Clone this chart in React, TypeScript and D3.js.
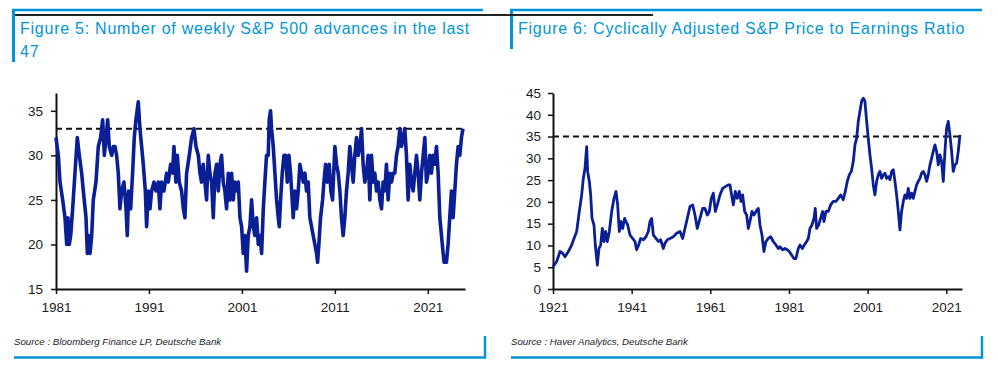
import { useEffect, useRef } from 'react';
import * as d3 from 'd3';

// Figure 5: weekly S&P 500 advances (readings)
const advYears = [
  1981.0, 1981.25, 1981.43, 1981.72, 1981.97, 1982.15, 1982.29, 1982.43, 1982.58, 1982.79,
  1983.04, 1983.29, 1983.51, 1983.76, 1983.94, 1984.23, 1984.37, 1984.51, 1984.66, 1984.84,
  1985.01, 1985.3, 1985.55, 1985.8, 1986.02, 1986.2, 1986.38, 1986.56, 1986.73, 1986.99,
  1987.16, 1987.34, 1987.52, 1987.7, 1987.88, 1988.06, 1988.31, 1988.53, 1988.67, 1988.81,
  1989.03, 1989.24, 1989.42, 1989.6, 1989.85, 1990.03, 1990.21, 1990.39, 1990.61, 1990.75,
  1990.93, 1991.11, 1991.29, 1991.54, 1991.76, 1992.0, 1992.18, 1992.36, 1992.61, 1992.9,
  1993.08, 1993.33, 1993.54, 1993.69, 1993.9, 1994.05, 1994.26, 1994.51, 1994.7, 1994.87,
  1995.05, 1995.34, 1995.59, 1995.84, 1996.06, 1996.31, 1996.49, 1996.66, 1996.84, 1997.02,
  1997.2, 1997.38, 1997.56, 1997.74, 1997.92, 1998.1, 1998.28, 1998.46, 1998.64, 1998.81,
  1998.99, 1999.17, 1999.35, 1999.53, 1999.71, 1999.89, 2000.07, 2000.25, 2000.43, 2000.61,
  2000.79, 2000.97, 2001.14, 2001.32, 2001.5, 2001.68, 2001.86, 2002.04, 2002.22, 2002.4,
  2002.58, 2002.76, 2002.94, 2003.12, 2003.3, 2003.47, 2003.65, 2003.83, 2003.94, 2004.08,
  2004.19, 2004.37, 2004.55, 2004.73, 2004.91, 2005.02, 2005.16, 2005.34, 2005.52, 2005.7,
  2005.88, 2006.06, 2006.23, 2006.41, 2006.52, 2006.7, 2006.88, 2007.06, 2007.24, 2007.42,
  2007.6, 2007.78, 2007.95, 2008.13, 2008.31, 2008.49, 2008.67, 2008.85, 2009.03, 2009.14,
  2009.28, 2009.46, 2009.68, 2009.82, 2010.0, 2010.18, 2010.39, 2010.57, 2010.75, 2011.0,
  2011.18, 2011.36, 2011.54, 2011.71, 2011.89, 2012.07, 2012.25, 2012.43, 2012.61, 2012.79,
  2012.97, 2013.15, 2013.33, 2013.51, 2013.69, 2013.87, 2014.04, 2014.22, 2014.4, 2014.58,
  2014.76, 2014.94, 2015.12, 2015.3, 2015.48, 2015.66, 2015.84, 2016.02, 2016.19, 2016.37,
  2016.55, 2016.73, 2016.91, 2017.09, 2017.27, 2017.45, 2017.63, 2017.81, 2017.99, 2018.17,
  2018.35, 2018.52, 2018.7, 2018.88, 2019.06, 2019.24, 2019.42, 2019.6, 2019.78, 2019.96,
  2020.14, 2020.32, 2020.5, 2020.68, 2020.85, 2021.03, 2021.21, 2021.39, 2021.57, 2021.75,
  2021.93, 2022.11, 2022.29, 2022.47, 2022.65, 2022.75, 2023.0, 2023.18, 2023.36, 2023.54,
  2023.72, 2023.9, 2024.08, 2024.26, 2024.44, 2024.62, 2024.78,
];
const advValues = [
  32, 30, 27, 25, 23, 20, 23, 20, 21, 24,
  28, 32, 30, 28, 26, 23, 19, 21, 19, 21,
  25, 27, 31, 32, 34, 30, 32, 34, 31, 30,
  31, 31, 30, 28, 24, 26, 27, 24, 21, 26,
  24, 28, 32, 34, 36, 33, 31, 29, 26, 22,
  26, 24, 26, 27, 26, 27, 24, 27, 26, 28,
  27, 29, 28, 31, 27, 30, 27, 26, 24, 23,
  28, 30, 32, 33, 31, 30, 28, 27, 29, 27,
  25, 30, 28, 27, 23, 28, 29, 26, 29, 30,
  27, 26, 24, 28, 25, 28, 25, 27, 26, 27,
  23, 22, 19, 21, 17, 21, 22, 25, 22, 21,
  23, 20, 21, 19, 24, 27, 30, 30, 34, 35,
  33, 31, 28, 25, 23, 22, 25, 28, 30, 30,
  27, 30, 28, 25, 23, 26, 24, 26, 29, 28,
  27, 28, 26, 27, 23, 22, 21, 20, 19, 18,
  20, 23, 25, 27, 29, 27, 29, 26, 25, 31,
  29, 28, 26, 23, 21, 23, 26, 28, 31, 29,
  27, 30, 32, 30, 31, 33, 29, 27, 28, 30,
  25, 30, 27, 28, 26, 27, 25, 24, 27, 26,
  29, 25, 28, 27, 28, 28, 30, 31, 33, 31,
  32, 33, 30, 25, 29, 27, 26, 28, 30, 28,
  25, 28, 30, 32, 27, 28, 30, 28, 30, 29,
  31, 28, 23, 21, 19, 18, 18, 20, 23, 26,
  23, 26, 29, 31, 30, 32, 33,
];
const advXTicks = [1981, 1991, 2001, 2011, 2021];
const advYTicks = [15, 20, 25, 30, 35];
const advThreshold = 33;

// Figure 6: Shiller CAPE
const capeYears = [
  1921.0, 1921.93, 1922.78, 1923.46, 1924.05, 1924.9, 1925.75, 1926.34, 1927.02, 1927.69,
  1928.29, 1928.71, 1929.14, 1929.56, 1929.81, 1930.24, 1930.58, 1930.92, 1931.42, 1931.76,
  1932.27, 1932.69, 1933.12, 1933.54, 1933.97, 1934.39, 1934.81, 1935.32, 1935.92, 1936.51,
  1937.02, 1937.44, 1937.86, 1938.29, 1938.71, 1939.22, 1939.56, 1939.98, 1940.58, 1941.25,
  1941.85, 1942.27, 1942.78, 1943.29, 1943.97, 1944.64, 1945.24, 1945.66, 1946.08, 1946.51,
  1947.19, 1947.78, 1948.37, 1949.05, 1949.47, 1950.07, 1950.75, 1951.59, 1952.44, 1953.29,
  1953.97, 1954.56, 1955.15, 1955.83, 1956.51, 1957.1, 1957.69, 1958.37, 1959.05, 1959.64,
  1960.24, 1960.75, 1961.25, 1961.76, 1962.27, 1962.78, 1963.46, 1964.14, 1964.81, 1965.58,
  1966.0, 1966.42, 1966.85, 1967.36, 1967.86, 1968.37, 1968.8, 1969.22, 1969.73, 1970.24,
  1970.66, 1971.08, 1971.59, 1972.1, 1972.61, 1973.2, 1973.63, 1974.14, 1974.64, 1975.15,
  1975.75, 1976.34, 1977.02, 1977.69, 1978.29, 1978.71, 1979.39, 1979.98, 1980.58, 1981.08,
  1981.68, 1982.27, 1982.78, 1983.37, 1983.8, 1984.39, 1984.9, 1985.49, 1985.92, 1986.34,
  1986.85, 1987.36, 1987.69, 1988.03, 1988.54, 1989.05, 1989.56, 1989.9, 1990.41, 1991.0,
  1991.59, 1992.27, 1992.95, 1993.54, 1994.14, 1994.81, 1995.32, 1995.83, 1996.34, 1996.85,
  1997.36, 1997.78, 1998.2, 1998.63, 1999.05, 1999.47, 1999.9, 2000.32, 2000.75, 2001.17,
  2001.59, 2002.02, 2002.44, 2002.86, 2003.29, 2003.71, 2004.14, 2004.56, 2004.98, 2005.41,
  2005.83, 2006.25, 2006.68, 2007.1, 2007.53, 2007.95, 2008.37, 2008.8, 2009.22, 2009.64,
  2010.07, 2010.49, 2010.92, 2011.34, 2011.76, 2012.19, 2012.61, 2013.03, 2013.46, 2013.88,
  2014.31, 2014.73, 2015.15, 2015.58, 2016.0, 2016.42, 2016.85, 2017.27, 2017.69, 2018.12,
  2018.54, 2018.97, 2019.39, 2019.81, 2020.24, 2020.66, 2021.08, 2021.51, 2021.93, 2022.36,
  2022.78, 2023.2, 2023.63, 2024.05, 2024.47,
];
const capeValues = [
  5.1, 6.3, 8.6, 8.2, 7.4, 8.6, 10.1, 11.6, 13.2, 17.8,
  21.6, 25.4, 27.7, 32.7, 27.0, 24.7, 21.6, 16.2, 14.7, 10.1,
  5.5, 9.3, 10.1, 13.9, 10.9, 13.2, 10.9, 13.2, 17.8, 20.8,
  22.4, 19.3, 13.2, 15.5, 13.9, 16.2, 15.5, 14.7, 12.4, 11.6,
  10.9, 9.0, 10.1, 11.6, 11.3, 12.0, 13.2, 15.5, 16.2, 12.4,
  11.6, 10.9, 11.3, 9.3, 10.5, 11.3, 11.6, 12.0, 12.8, 13.2,
  11.6, 13.9, 16.2, 18.9, 19.3, 17.0, 13.9, 16.2, 18.5, 18.5,
  17.0, 17.8, 20.8, 22.0, 17.8, 19.3, 21.6, 23.1, 23.5, 23.9,
  23.9, 21.6, 19.3, 22.4, 20.8, 22.4, 20.1, 21.6, 17.8, 17.0,
  13.9, 15.5, 17.8, 17.0, 17.8, 18.5, 14.7, 12.4, 8.6, 10.9,
  11.6, 12.0, 10.9, 10.1, 9.3, 9.7, 9.0, 9.3, 9.0, 8.6,
  7.8, 7.0, 7.0, 9.3, 10.1, 9.3, 10.1, 10.9, 11.6, 13.9,
  14.7, 16.2, 18.5, 13.9, 14.7, 16.2, 17.8, 15.5, 17.8, 17.8,
  19.3, 20.1, 20.1, 20.8, 21.6, 20.5, 22.4, 24.7, 26.2, 27.0,
  29.3, 33.1, 34.6, 38.5, 40.8, 43.1, 43.8, 43.1, 38.5, 34.6,
  30.8, 27.7, 23.9, 21.6, 24.7, 26.2, 27.0, 25.4, 26.2, 26.6,
  25.4, 25.8, 25.1, 27.0, 27.4, 24.7, 21.6, 17.8, 13.6, 17.8,
  20.1, 21.6, 20.8, 23.1, 20.8, 22.0, 20.8, 22.4, 23.9, 24.7,
  25.4, 26.6, 27.0, 26.2, 24.7, 26.2, 28.5, 30.0, 31.6, 33.1,
  31.6, 28.5, 30.8, 29.3, 24.7, 31.6, 36.9, 38.5, 35.4, 31.6,
  27.0, 28.5, 28.9, 31.6, 35.4,
];
const capeXTicks = [1921, 1941, 1961, 1981, 2001, 2021];
const capeYTicks = [0, 5, 10, 15, 20, 25, 30, 35, 40, 45];
const capeThreshold = 35;

const BLUE = '#0095da';
const LINE = '#0a1e96';
const FONT = '"Liberation Sans", Arial, sans-serif';

const drawPanel = (svg, cfg) => {
  const x = d3.scaleLinear().domain(cfg.xDomain).range([cfg.left, cfg.right]);
  const y = d3.scaleLinear().domain(cfg.yDomain).range([cfg.bottom, cfg.top]);

  // Y axis
  const yAxis = svg
    .append('g')
    .attr('transform', `translate(${cfg.left}, 0)`)
    .call(d3.axisLeft(y).tickValues(cfg.yTicks).tickSize(5).tickSizeOuter(0).tickPadding(cfg.yPad));
  yAxis.select('.domain').attr('stroke', '#111').attr('stroke-width', 2);
  yAxis.selectAll('line').attr('stroke', '#111').attr('stroke-width', 1.5);
  yAxis.selectAll('text').style('font-size', '13.5px').style('font-family', FONT).style('fill', '#1a1a1a');

  // X axis
  const xAxis = svg
    .append('g')
    .attr('transform', `translate(0, ${cfg.bottom})`)
    .call(d3.axisBottom(x).tickValues(cfg.xTicks).tickFormat(d3.format('d')).tickSize(5).tickSizeOuter(0).tickPadding(8));
  xAxis.select('.domain').attr('stroke', '#111').attr('stroke-width', 2);
  xAxis.selectAll('line').attr('stroke', '#111').attr('stroke-width', 1.5);
  xAxis.selectAll('text').style('font-size', '13.5px').style('font-family', FONT).style('fill', '#1a1a1a');

  // Threshold line
  svg
    .append('line')
    .attr('x1', cfg.left)
    .attr('x2', cfg.dashEnd)
    .attr('y1', y(cfg.threshold))
    .attr('y2', y(cfg.threshold))
    .attr('stroke', '#111')
    .attr('stroke-width', 2)
    .attr('stroke-dasharray', '6,4');

  const line = d3
    .line()
    .x(d => x(d[0]))
    .y(d => y(d[1]));

  svg
    .append('path')
    .datum(cfg.data)
    .attr('fill', 'none')
    .attr('stroke', LINE)
    .attr('stroke-width', cfg.lineWidth)
    .attr('stroke-linejoin', 'round')
    .attr('d', line);
};

const App = () => {
  const svgRef = useRef(null);

  useEffect(() => {
    const svg = d3.select(svgRef.current);
    svg.selectAll('*').remove();

    // Frame decorations
    svg.append('line').attr('x1', 12).attr('x2', 483).attr('y1', 10).attr('y2', 10).attr('stroke', BLUE).attr('stroke-width', 2.5);
    svg.append('line').attr('x1', 13.5).attr('x2', 13.5).attr('y1', 9).attr('y2', 62).attr('stroke', BLUE).attr('stroke-width', 3);
    svg.append('line').attr('x1', 510).attr('x2', 982).attr('y1', 10).attr('y2', 10).attr('stroke', BLUE).attr('stroke-width', 2.5);
    svg.append('line').attr('x1', 511.5).attr('x2', 511.5).attr('y1', 9).attr('y2', 49).attr('stroke', BLUE).attr('stroke-width', 3);
    svg.append('line').attr('x1', 15).attr('x2', 653).attr('y1', 15).attr('y2', 15).attr('stroke', '#222').attr('stroke-width', 2);

    svg.append('line').attr('x1', 14).attr('x2', 486).attr('y1', 357.5).attr('y2', 357.5).attr('stroke', BLUE).attr('stroke-width', 2.5);
    svg.append('line').attr('x1', 485).attr('x2', 485).attr('y1', 336).attr('y2', 358.5).attr('stroke', BLUE).attr('stroke-width', 2.5);
    svg.append('line').attr('x1', 511).attr('x2', 983).attr('y1', 357.5).attr('y2', 357.5).attr('stroke', BLUE).attr('stroke-width', 2.5);
    svg.append('line').attr('x1', 982).attr('x2', 982).attr('y1', 336).attr('y2', 358.5).attr('stroke', BLUE).attr('stroke-width', 2.5);

    // Titles
    const title = (tx, ty, txt) =>
      svg
        .append('text')
        .attr('x', tx)
        .attr('y', ty)
        .style('font-family', FONT)
        .style('font-size', '16px')
        .style('letter-spacing', '0.75px')
        .style('fill', BLUE)
        .text(txt);
    title(20, 34, 'Figure 5: Number of weekly S&P 500 advances in the last');
    title(20, 56.5, '47');
    title(518, 34, 'Figure 6: Cyclically Adjusted S&P Price to Earnings Ratio');

    // Sources
    const source = (tx, txt) =>
      svg
        .append('text')
        .attr('x', tx)
        .attr('y', 345)
        .style('font-family', FONT)
        .style('font-size', '9.7px')
        .style('font-style', 'italic')
        .style('fill', '#1a1a2a')
        .text(txt);
    source(14, 'Source : Bloomberg Finance LP, Deutsche Bank');
    source(511, 'Source : Haver Analytics, Deutsche Bank');

    drawPanel(svg, {
      data: advYears.map((yr, i) => [yr, advValues[i]]),
      xDomain: [1981, 2025],
      yDomain: [15, 37],
      left: 56,
      right: 465,
      top: 93,
      bottom: 289,
      xTicks: advXTicks,
      yTicks: advYTicks,
      yPad: 8,
      threshold: advThreshold,
      dashEnd: 464,
      lineWidth: 3.6,
    });

    drawPanel(svg, {
      data: capeYears.map((yr, i) => [yr, capeValues[i]]),
      xDomain: [1921, 2025],
      yDomain: [0, 45],
      left: 553,
      right: 962,
      top: 93,
      bottom: 289,
      xTicks: capeXTicks,
      yTicks: capeYTicks,
      yPad: 7,
      threshold: capeThreshold,
      dashEnd: 962,
      lineWidth: 2.8,
    });
  }, []);

  return (
    <svg
      ref={svgRef}
      width={998}
      height={372}
      style={{ position: 'fixed', left: 0, top: 0, background: '#fff' }}
    />
  );
};

export default App;
